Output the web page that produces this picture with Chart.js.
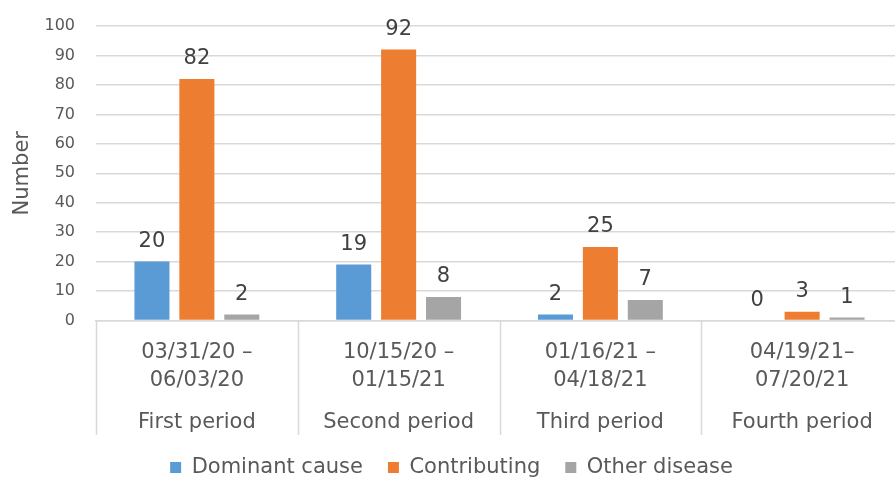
<!DOCTYPE html>
<html>
<head>
<meta charset="utf-8">
<script src="https://cdn.jsdelivr.net/npm/chart.js@4/dist/chart.umd.min.js"></script>
<style>
  html, body { margin: 0; padding: 0; background: #fff; overflow: hidden; }
  #wrap { width: 895px; height: 478px; overflow: hidden; }
  #chart { display: block; }
</style>
</head>
<body>
<div id="wrap"><canvas id="chart" width="903" height="488"></canvas></div>
<script>
// Data
const dateRanges = [
    ['03/31/20 \u2013', '06/03/20'],
    ['10/15/20 \u2013', '01/15/21'],
    ['01/16/21 \u2013', '04/18/21'],
    ['04/19/21\u2013', '07/20/21']
];
const periodNames = ['First period', 'Second period', 'Third period', 'Fourth period'];
const dominantCause = [20, 19, 2, 0];
const contributing = [82, 92, 25, 3];
const otherDisease = [2, 8, 7, 1];
const yTicks = [0, 10, 20, 30, 40, 50, 60, 70, 80, 90, 100];

const FONT = "'DejaVu Sans', sans-serif";
const TEXT = '#595959';
const LINE = '#d9d9d9';

// Value labels above each bar
const valueLabels = {
    id: 'valueLabels',
    afterDatasetsDraw(chart) {
        const ctx = chart.ctx;
        ctx.save();
        ctx.font = `21px ${FONT}`;
        ctx.fillStyle = '#404040';
        ctx.textAlign = 'center';
        ctx.textBaseline = 'alphabetic';
        chart.data.datasets.forEach((ds, i) => {
            chart.getDatasetMeta(i).data.forEach((bar, j) => {
                ctx.fillText(String(ds.data[j]), bar.x, bar.y - 15);
            });
        });
        ctx.restore();
    }
};

// Vertical separators between categories, running down through the labels
const categoryDividers = {
    id: 'categoryDividers',
    afterDraw(chart) {
        const x = chart.scales.x;
        const ctx = chart.ctx;
        const n = chart.data.labels.length;
        const xs = [x.left];
        for (let i = 1; i < n; i++) {
            xs.push((x.getPixelForTick(i - 1) + x.getPixelForTick(i)) / 2);
        }
        xs.push(x.right);
        const bottom = chart.scales.x2.bottom + 3;
        ctx.save();
        ctx.strokeStyle = LINE;
        ctx.lineWidth = 1.5;
        xs.forEach(px => {
            ctx.beginPath();
            ctx.moveTo(Math.round(px) + 0.5, chart.chartArea.bottom);
            ctx.lineTo(Math.round(px) + 0.5, bottom);
            ctx.stroke();
        });
        ctx.restore();
    }
};

new Chart(document.getElementById('chart'), {
    type: 'bar',
    data: {
        labels: dateRanges,
        datasets: [
            { label: 'Dominant cause', data: dominantCause, backgroundColor: '#5b9bd5' },
            { label: 'Contributing', data: contributing, backgroundColor: '#ed7d31' },
            { label: 'Other disease', data: otherDisease, backgroundColor: '#a5a5a5' }
        ]
    },
    options: {
        responsive: false,
        animation: false,
        devicePixelRatio: 1,
        categoryPercentage: 0.668,
        barPercentage: 0.78,
        layout: { padding: { top: 26, right: 0, left: 0, bottom: 0 } },
        plugins: {
            legend: {
                position: 'bottom',
                labels: {
                    font: { family: FONT, size: 21 },
                    color: TEXT,
                    boxWidth: 11,
                    boxHeight: 11,
                    padding: 25
                }
            },
            tooltip: { enabled: false }
        },
        scales: {
            x: {
                weight: 0,
                grid: { display: false, drawTicks: false },
                border: { display: true, color: LINE, width: 1.5 },
                ticks: {
                    font: { family: FONT, size: 21, lineHeight: 1.33 },
                    color: TEXT,
                    padding: 18,
                    maxRotation: 0,
                    autoSkip: false
                },
                afterFit(scale) {
                    scale.height = 74;
                }
            },
            x2: {
                type: 'category',
                labels: periodNames,
                position: 'bottom',
                weight: 1,
                offset: true,
                grid: { display: false, drawTicks: false },
                border: { display: false },
                ticks: {
                    font: { family: FONT, size: 21 },
                    color: TEXT,
                    padding: 15,
                    maxRotation: 0,
                    autoSkip: false
                },
                afterFit(scale) {
                    scale.height = 37.5;
                }
            },
            y: {
                min: 0,
                max: 100,
                afterBuildTicks(scale) {
                    scale.ticks = yTicks.map(v => ({ value: v }));
                },
                afterFit(scale) {
                    scale.width = 96;
                    scale.paddingTop = 10;
                    scale.paddingBottom = 10;
                },
                grid: { color: LINE, lineWidth: 1.5, drawTicks: false },
                border: { display: false },
                ticks: {
                    font: { family: FONT, size: 16 },
                    color: TEXT,
                    padding: 21
                },
                title: {
                    display: true,
                    text: 'Number',
                    font: { family: FONT, size: 21 },
                    color: TEXT,
                    padding: { top: 10, bottom: 0 }
                }
            }
        }
    },
    plugins: [valueLabels, categoryDividers]
});
</script>
</body>
</html>
